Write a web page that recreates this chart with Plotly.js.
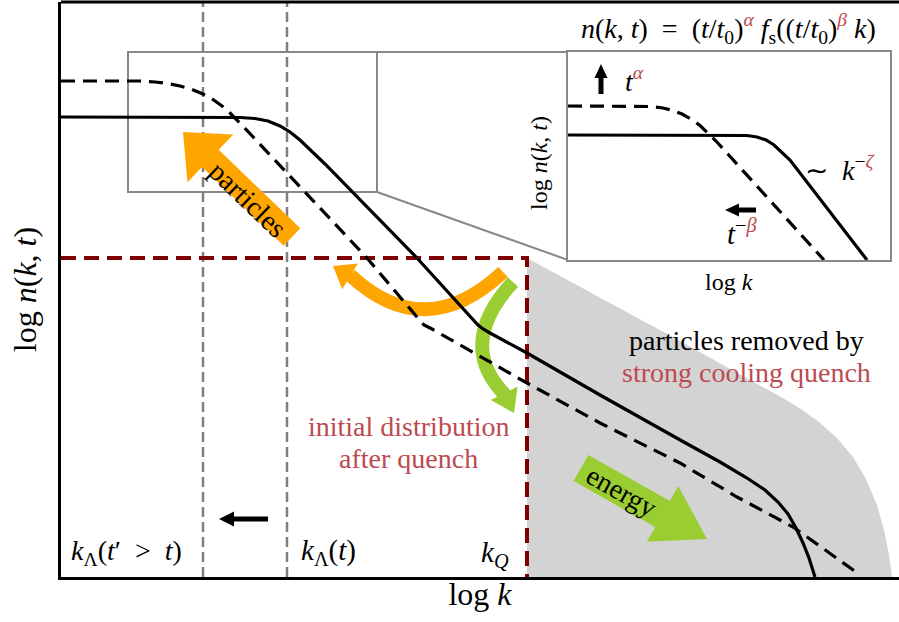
<!DOCTYPE html>
<html>
<head>
<meta charset="utf-8">
<script src="https://cdn.plot.ly/plotly-3.0.1.min.js"></script>
<style>
  html, body { margin: 0; padding: 0; background: #fff; }
  #chart { width: 899px; height: 622px; }
</style>
</head>
<body>
<div id="chart"></div>
<script>
// ---- Occupation spectra on log-log axes (arbitrary units) ----
// Solid: spectrum at time t
const kNow = [0, 1.59, 1.79, 1.94, 2.07, 2.19, 2.29, 2.39, 2.51, 2.64, 3.56, 4.17, 4.22, 4.29, 4.66, 5.39, 6.21, 6.59, 6.86, 7.04, 7.17, 7.27, 7.35, 7.42, 7.48, 7.54];
const nNow = [4.60, 4.60, 4.595, 4.585, 4.56, 4.51, 4.45, 4.37, 4.26, 4.13, 3.19, 2.52, 2.48, 2.44, 2.24, 1.82, 1.36, 1.15, 0.99, 0.87, 0.75, 0.63, 0.49, 0.34, 0.19, 0.00];
// Dashed: spectrum at a later time t' > t
const kLater = [0, 0.79, 0.94, 1.07, 1.19, 1.31, 1.42, 1.52, 1.61, 1.69, 1.79, 3.06, 3.56, 3.63, 3.71, 4.66, 5.39, 6.19, 6.76, 7.32, 7.95];
const nLater = [4.96, 4.96, 4.95, 4.935, 4.91, 4.875, 4.83, 4.775, 4.71, 4.64, 4.54, 3.19, 2.60, 2.52, 2.48, 1.94, 1.54, 1.14, 0.80, 0.50, 0.05];

// Region of particles removed by the cooling quench
const kRemoved = [4.66, 5.44, 6.19, 6.89, 7.20, 7.40, 7.58, 7.76, 7.92, 8.05, 8.16, 8.23, 8.28, 8.31, 4.66];
const nRemoved = [3.19, 2.77, 2.36, 1.97, 1.80, 1.68, 1.55, 1.39, 1.20, 0.98, 0.72, 0.47, 0.22, 0.00, 0.00];

// Initial distribution after the quench: flat up to k_Q
const kQ = 4.66;
const nQ = 3.19;

// Infrared scales k_Λ(t') and k_Λ(t)
const kLambda = [1.42, 2.26];
const kLambdaLabels = ['<i>k</i><sub>Λ</sub>(<i>t</i>′\u2002>\u2002<i>t</i>)', '<i>k</i><sub>Λ</sub>(<i>t</i>)'];

// Zoomed window (main axes) and the inset showing self-similar scaling
const zoomK = [0.67, 3.16];
const zoomN = [3.85, 5.25];
const insetK1 = [0, 0.72, 0.84, 0.95, 1.05, 1.14, 1.23, 1.32, 1.40, 1.48, 2.56];
const insetN1 = [1.54, 1.54, 1.535, 1.52, 1.495, 1.46, 1.41, 1.345, 1.27, 1.19, 0.00];
const insetK0 = [0, 1.67, 1.79, 1.89, 1.98, 2.06, 2.14, 2.22, 2.99];
const insetN0 = [1.25, 1.25, 1.245, 1.23, 1.20, 1.15, 1.08, 1.00, 0.00];

const RED = '#bd4a50';
const MAROON = '#7f0000';
const ORANGE = '#ffa500';
const GREEN = '#9acd32';

// Block arrow polygon from a back-centre point to a tip
function blockArrow(back, tip, shaftHalf, headHalf, headLen) {
  const dx = tip[0] - back[0], dy = tip[1] - back[1];
  const L = Math.hypot(dx, dy), ux = dx / L, uy = dy / L, nx = -uy, ny = ux;
  const bx = tip[0] - ux * headLen, by = tip[1] - uy * headLen;
  const pts = [
    [back[0] + nx * shaftHalf, back[1] + ny * shaftHalf],
    [bx + nx * shaftHalf, by + ny * shaftHalf],
    [bx + nx * headHalf, by + ny * headHalf],
    [tip[0], tip[1]],
    [bx - nx * headHalf, by - ny * headHalf],
    [bx - nx * shaftHalf, by - ny * shaftHalf],
    [back[0] - nx * shaftHalf, back[1] - ny * shaftHalf],
    [back[0] + nx * shaftHalf, back[1] + ny * shaftHalf]
  ];
  return { x: pts.map(p => p[0]), y: pts.map(p => p[1]) };
}

// Triangle head path for a curved or straight arrow
function headPath(from, tip, half, len) {
  const dx = tip[0] - from[0], dy = tip[1] - from[1];
  const L = Math.hypot(dx, dy), ux = dx / L, uy = dy / L, nx = -uy, ny = ux;
  const bx = tip[0] - ux * len, by = tip[1] - uy * len;
  return `M${bx + nx * half},${by + ny * half} L${tip[0]},${tip[1]} L${bx - nx * half},${by - ny * half} Z`;
}

const orangeBlock = blockArrow([2.31, 3.40], [1.22, 4.45], 0.12, 0.33, 0.38);
const greenBlock = blockArrow([5.20, 1.09], [6.46, 0.38], 0.15, 0.32, 0.51);

const traces = [
  { x: kRemoved, y: nRemoved, mode: 'lines', fill: 'toself', fillcolor: '#d3d3d3', line: { width: 0 } },
  { x: [kLambda[0], kLambda[0], null, kLambda[1], kLambda[1]], y: [0, 5.75, null, 0, 5.75], mode: 'lines',
    line: { color: '#808080', width: 2.5, dash: '10px,5px' } },
  { x: [0, kQ, kQ], y: [nQ, nQ, 0], mode: 'lines', line: { color: MAROON, width: 4, dash: '15px,8px' } },
  { x: orangeBlock.x, y: orangeBlock.y, mode: 'lines', fill: 'toself', fillcolor: ORANGE, line: { width: 0 } },
  { x: greenBlock.x, y: greenBlock.y, mode: 'lines', fill: 'toself', fillcolor: GREEN, line: { width: 0 } },
  { x: kNow, y: nNow, mode: 'lines', line: { color: '#000', width: 3.2 } },
  { x: kLater, y: nLater, mode: 'lines', line: { color: '#000', width: 3.2, dash: '14px,8px' } },
  { x: insetK1, y: insetN1, xaxis: 'x2', yaxis: 'y2', mode: 'lines', line: { color: '#000', width: 3.2, dash: '14px,8px' } },
  { x: insetK0, y: insetN0, xaxis: 'x2', yaxis: 'y2', mode: 'lines', line: { color: '#000', width: 3.2 } }
];

const shapes = [
  // zoom window and connectors to the inset
  { type: 'rect', x0: zoomK[0], x1: zoomK[1], y0: zoomN[0], y1: zoomN[1], line: { color: '#888', width: 2 }, layer: 'below' },
  { type: 'line', x0: zoomK[1], x1: 5.07, y0: zoomN[1], y1: 5.25, line: { color: '#888', width: 2 }, layer: 'below' },
  { type: 'line', x0: zoomK[1], x1: 5.07, y0: zoomN[0], y1: 3.17, line: { color: '#888', width: 2 }, layer: 'below' },
  // curved arrows: particles flow to the IR, energy flows to the UV
  { type: 'path', path: 'M4.42,3.05 Q3.64,2.32 2.89,3.02', line: { color: ORANGE, width: 14 }, layer: 'below' },
  { type: 'path', path: headPath([2.95, 2.97], [2.72, 3.11], 0.15, 0.2), fillcolor: ORANGE, line: { width: 0 }, layer: 'below' },
  { type: 'path', path: 'M4.52,2.95 Q3.93,2.31 4.47,1.79', line: { color: GREEN, width: 14 }, layer: 'below' },
  { type: 'path', path: headPath([4.43, 1.84], [4.53, 1.64], 0.15, 0.22), fillcolor: GREEN, line: { width: 0 }, layer: 'below' },
  // top frame line
  { type: 'line', xref: 'paper', yref: 'paper', x0: 0, x1: 1, y0: 1, y1: 1, line: { color: '#000', width: 3 } },
  // shift of k_Λ with time
  { type: 'line', x0: 2.07, x1: 1.72, y0: 0.58, y1: 0.58, line: { color: '#000', width: 5 } },
  { type: 'path', path: headPath([2.0, 0.58], [1.58, 0.58], 0.075, 0.15), fillcolor: '#000', line: { width: 0 } },
  // inset arrows
  { type: 'line', xref: 'x2', yref: 'y2', x0: 0.33, x1: 0.33, y0: 1.66, y1: 1.82, line: { color: '#000', width: 5 } },
  { type: 'path', xref: 'x2', yref: 'y2', path: headPath([0.33, 1.7], [0.33, 1.96], 0.065, 0.14), fillcolor: '#000', line: { width: 0 } },
  { type: 'line', xref: 'x2', yref: 'y2', x0: 1.88, x1: 1.7, y0: 0.5, y1: 0.5, line: { color: '#000', width: 5 } },
  { type: 'path', xref: 'x2', yref: 'y2', path: headPath([1.85, 0.5], [1.57, 0.5], 0.065, 0.14), fillcolor: '#000', line: { width: 0 } }
];

const F = 'Liberation Serif';
const ann = (x, y, text, size, extra) => Object.assign({ x, y, text, showarrow: false, font: { family: F, size: size, color: '#000' } }, extra || {});
const red = s => '<span style="color:' + RED + '">' + s + '</span>';

const annotations = [
  ann(6.67, 5.49, '<i>n</i>(<i>k</i>, <i>t</i>)\u2002=\u2002(<i>t</i>/<i>t</i><sub>0</sub>)<sup>' + red('<i>α</i>') + '</sup> <i>f</i><sub>s</sub>((<i>t</i>/<i>t</i><sub>0</sub>)<sup>' + red('<i>β</i>') + '</sup> <i>k</i>)', 28),
  ann(0.655, 0.25, kLambdaLabels[0], 28),
  ann(2.67, 0.25, kLambdaLabels[1], 29),
  ann(4.34, 0.23, '<i>k</i><sub><i>Q</i></sub>', 29),
  ann(3.47, 1.51, red('initial distribution'), 28),
  ann(3.47, 1.19, red('after quench'), 28),
  ann(6.85, 2.37, 'particles removed by', 28),
  ann(6.85, 2.05, red('strong cooling quench'), 28),
  ann(1.87, 3.78, 'particles', 28, { textangle: 44 }),
  ann(5.61, 0.86, 'energy', 28, { textangle: 29 }),
  // inset labels
  ann(0.66, 1.81, '<i>t</i><sup>' + red('<i>α</i>') + '</sup>', 28, { xref: 'x2', yref: 'y2' }),
  ann(2.72, 0.92, '∼\u2002<i>k</i><sup>−' + red('<i>ζ</i>') + '</sup>', 28, { xref: 'x2', yref: 'y2' }),
  ann(1.74, 0.28, '<i>t</i><sup>−' + red('<i>β</i>') + '</sup>', 29, { xref: 'x2', yref: 'y2' }),
  ann(1.61, (577 - 282) / 575, 'log <i>k</i>', 24, { xref: 'x2', yref: 'paper' }),
  ann((539 - 61) / 838, 0.97, 'log <i>n</i>(<i>k</i>, <i>t</i>)', 24, { xref: 'paper', yref: 'y2', textangle: -90 })
];

const bare = { showgrid: false, zeroline: false, showticklabels: false, ticks: '', fixedrange: true };

const layout = {
  width: 899, height: 622,
  margin: { l: 61, r: 0, t: 2, b: 45 },
  paper_bgcolor: '#fff', plot_bgcolor: '#fff',
  showlegend: false, hovermode: false,
  font: { family: F, color: '#000' },
  xaxis: Object.assign({}, bare, { range: [0, 8.38], showline: true, linecolor: '#000', linewidth: 3,
    title: { text: 'log <i>k</i>', font: { size: 32, family: F }, standoff: 4 } }),
  yaxis: Object.assign({}, bare, { range: [0, 5.75], showline: true, linecolor: '#000', linewidth: 3,
    title: { text: 'log <i>n</i>(<i>k</i>, <i>t</i>)', font: { size: 32, family: F }, standoff: 12 } }),
  xaxis2: Object.assign({}, bare, { domain: [507 / 838, 829 / 838], range: [0, 3.22], anchor: 'y2',
    showline: true, mirror: true, linecolor: '#888', linewidth: 2 }),
  yaxis2: Object.assign({}, bare, { domain: [317 / 575, 525 / 575], range: [0, 2.08], anchor: 'x2',
    showline: true, mirror: true, linecolor: '#888', linewidth: 2 }),
  shapes, annotations
};

Plotly.newPlot('chart', traces, layout, { staticPlot: true, displayModeBar: false });
</script>
</body>
</html>
